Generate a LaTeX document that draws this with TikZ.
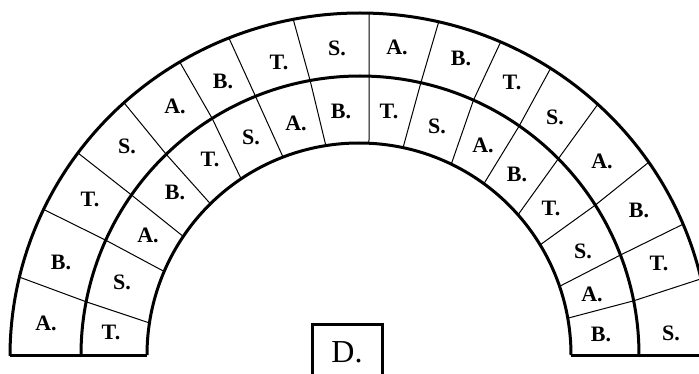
\documentclass[tikz,border=0pt]{standalone}
\usepackage{fontspec}
\setmainfont{Liberation Serif}
\begin{document}
\begin{tikzpicture}[x=1pt,y=-1pt,
  curve/.style={line width=3pt},
  divider/.style={line width=1pt},
  lab/.style={font=\fontsize{22}{22}\selectfont\bfseries, inner sep=0pt},
  dbox/.style={draw, line width=3pt, minimum width=70pt, minimum height=60pt,
    anchor=north, inner sep=0pt, text depth=5pt, font=\fontsize{32}{32}\selectfont}]
\clip (0,0) rectangle (699,374);
\fill[white] (0,0) rectangle (699,374);
% dividers
\foreach \n/\a/\b/\c in {1/166.7/169/171.3, 2/154.7/155.7/156.8, 3/143.7/145/146,
  4/132.4/134/134.5, 5/121/122/123.8, 6/112/112/111, 7/101/100.3/99,
  8/88.5/88.1/87.3, 9/77/77.4/78, 10/66.3/66/64.2, 11/57/55.2/53.9,
  12/47.2/44.7/41.4, 13/34.4/32.5/31.3, 14/22.6/21.0/18.9, 15/13/11.2/10.0} {
  \coordinate (o\n) at ({360+350*cos(\a)},{356-343*sin(\a)});
  \coordinate (m\n) at ({360+279*cos(\b)},{355-279*sin(\b)});
  \coordinate (i\n) at ({359+212*cos(\c)},{355-212*sin(\c)});
  \draw[divider] (o\n) -- (m\n) -- (i\n);
}
% rings
\draw[curve] plot[domain=0:180, samples=181] ({360+350*cos(\x)},{356-343*sin(\x)});
\draw[curve] plot[domain=0:180, samples=181] ({360+279*cos(\x)},{355-279*sin(\x)});
\draw[curve] plot[domain=0:180, samples=181] ({359+212*cos(\x)},{355-212*sin(\x)});
\coordinate (bl1) at (10,355);
\coordinate (bl2) at (147,355);
\coordinate (br1) at (571,355);
\coordinate (br2) at (705,355);
\draw[curve] (bl1) -- (bl2);
\draw[curve] (br1) -- (br2);
% outer labels
\node[lab] (oa1) at (46,323) {A.};
\node[lab] (ob1) at (61,262) {B.};
\node[lab] (ot1) at (90,199) {T.};
\node[lab] (os1) at (127,146) {S.};
\node[lab] (oa2) at (175,106) {A.};
\node[lab] (ob2) at (223,81) {B.};
\node[lab] (ot2) at (279,62) {T.};
\node[lab] (os2) at (337,48) {S.};
\node[lab] (oa3) at (397,47) {A.};
\node[lab] (ob3) at (461,58) {B.};
\node[lab] (ot3) at (512,82) {T.};
\node[lab] (os3) at (555,117) {S.};
\node[lab] (oa4) at (602,161) {A.};
\node[lab] (ob4) at (639,210) {B.};
\node[lab] (ot4) at (659,263) {T.};
\node[lab] (os4) at (671,333) {S.};
% middle labels
\node[lab] (mt1) at (111,332) {T.};
\node[lab] (ms1) at (122,282) {S.};
\node[lab] (ma1) at (148,235) {A.};
\node[lab] (mb1) at (175,192) {B.};
\node[lab] (mt2) at (210,159) {T.};
\node[lab] (ms2) at (251,137) {S.};
\node[lab] (ma2) at (296,123) {A.};
\node[lab] (mb2) at (341,111) {B.};
\node[lab] (mt3) at (389,111) {T.};
\node[lab] (ms3) at (437,126) {S.};
\node[lab] (ma3) at (483,145) {A.};
\node[lab] (mb3) at (517,174) {B.};
\node[lab] (mt4) at (551,208) {T.};
\node[lab] (ms4) at (583,251) {S.};
\node[lab] (ma4) at (592,294) {A.};
\node[lab] (mb4) at (601,334) {B.};
% box
\node[dbox] (d) at (347,323) {D.};
\end{tikzpicture}
\end{document}
